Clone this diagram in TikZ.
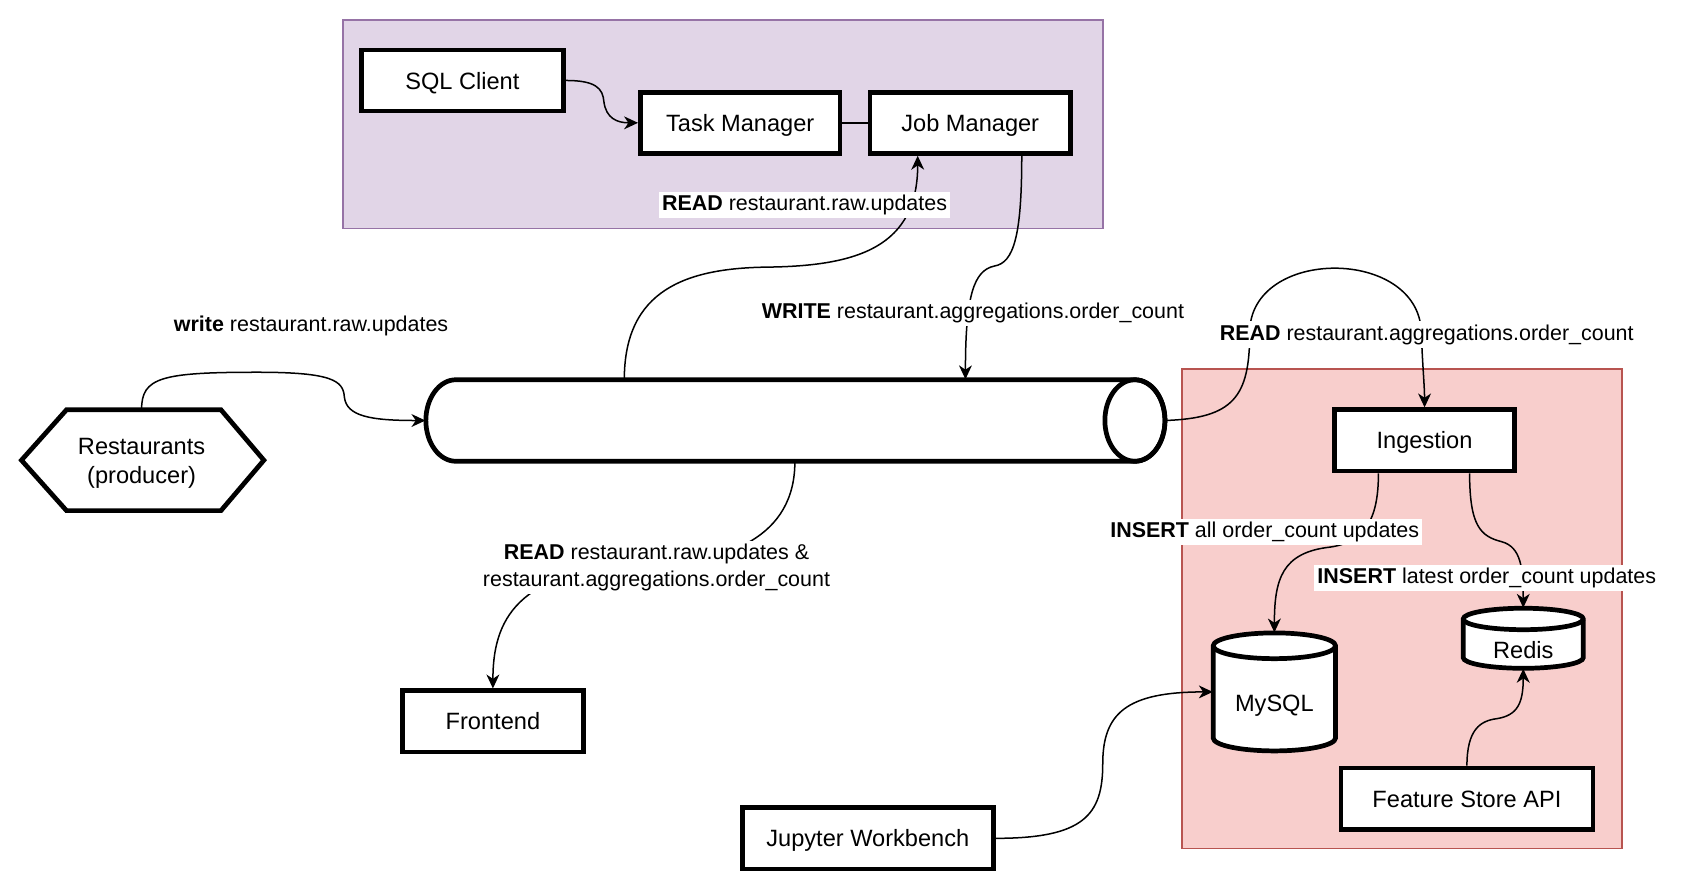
\documentclass[tikz,border=0pt]{standalone}
\usepackage{fontspec}
\setmainfont{Liberation Sans}
\usetikzlibrary{arrows.meta,calc}
\definecolor{purpfill}{HTML}{E1D5E7}
\definecolor{purpline}{HTML}{9673A6}
\definecolor{redfill}{HTML}{F8CECC}
\definecolor{redline}{HTML}{B85450}
\begin{document}
\begin{tikzpicture}[x=0.5pt,y=-0.5pt,
  box/.style={draw, line width=2.2pt, fill=white, minimum height=28.5pt, inner sep=0pt, text height=8pt, text depth=0pt, font=\fontsize{11}{13.5}\selectfont},
  lbl/.style={fill=white, inner sep=1.5pt, font=\fontsize{10}{12.5}\selectfont, align=center},
  conn/.style={line width=0.7pt, -{Stealth[length=6.5pt,width=6pt,inset=2pt]}},
  plainconn/.style={line width=0.7pt},
  solid3d/.style={line width=2.2pt, fill=white},
  grp/.style={line width=0.9pt},
  txt/.style={inner sep=0pt, align=center, font=\fontsize{11}{13.5}\selectfont}
]
\useasboundingbox (0,0) rectangle (1568,832);

% groups
\draw[grp, fill=purpfill, draw=purpline] (320,19) rectangle (1028,213);
\draw[grp, fill=redfill, draw=redline] (1102,344) rectangle (1512,791);

% boxes
\node[box, minimum width=94pt] (sql) at (431,75) {SQL Client};
\node[box, minimum width=93pt] (tm) at (690,114.5) {Task Manager};
\node[box, minimum width=93.5pt] (jm) at (904.5,114.5) {Job Manager};
\node[box, minimum width=84.5pt] (fe) at (459.5,672.5) {Frontend};
\node[box, minimum width=84pt] (ing) at (1328,410.5) {Ingestion};
\node[box, minimum width=117.5pt] (fs) at (1367.5,744.5) {Feature Store API};
\node[box, minimum width=117pt] (jw) at (809,781.5) {Jupyter Workbench};

% hexagon producer
\draw[solid3d] (20,429) -- (62,382) -- (206,382) -- (246,429) -- (206,476) -- (62,476) -- cycle;
\node[minimum width=113pt, minimum height=47pt, inner sep=0pt] (rest) at (132,429) {};
\node[txt] (resttxt) at (132,432) {Restaurants\\(producer)};

% pipe (horizontal cylinder)
\draw[solid3d] (425,354) -- (1058,354)
  arc[start angle=90, end angle=-90, x radius=14pt, y radius=19pt]
  -- (425,430)
  arc[start angle=270, end angle=90, x radius=14pt, y radius=19pt] -- cycle;
\draw[line width=2.2pt] (1058,392) ellipse [x radius=14pt, y radius=19pt];
\node[minimum width=344pt, minimum height=38pt, inner sep=0pt] (pipe) at (741,392) {};

% MySQL cylinder
\draw[solid3d] (1131,602) -- (1131,688)
  arc[start angle=180, end angle=360, x radius=28.5pt, y radius=6pt]
  -- (1245,602)
  arc[start angle=0, end angle=180, x radius=28.5pt, y radius=6pt] -- cycle;
\draw[line width=2.2pt] (1131,602) arc[start angle=180, end angle=360, x radius=28.5pt, y radius=6pt];
\node[minimum width=57pt, minimum height=55pt, inner sep=0pt] (mysql) at (1188,645) {};
\node[txt] (mysqltxt) at (1188,658) {MySQL};

% Redis cylinder
\draw[solid3d] (1364,577) -- (1364,613)
  arc[start angle=180, end angle=360, x radius=28pt, y radius=5pt]
  -- (1476,577)
  arc[start angle=0, end angle=180, x radius=28pt, y radius=5pt] -- cycle;
\draw[line width=2.2pt] (1364,577) arc[start angle=180, end angle=360, x radius=28pt, y radius=5pt];
\node[minimum width=56pt, minimum height=28pt, inner sep=0pt] (redis) at (1420,595) {};
\node[txt] (redistxt) at (1420,606) {Redis};

% connectors
\draw[conn] (sql.east) .. controls (555,75) and (562,82) .. (563,95)
  .. controls (565,110) and (575,114.5) .. (tm.west);
\draw[plainconn] (tm.east) -- (jm.west);

\draw[conn] (rest.north) .. controls (132,352) and (150,347) .. (240,347)
  .. controls (310,347) and (320,355) .. (321,370)
  .. controls (323,388) and (345,392) .. (pipe.west);

\draw[conn] ($(pipe.north)+(-159,0)$) .. controls (582,270) and (640,250) .. (715,249)
  .. controls (800,248) and (855.5,230) .. ($(jm.south)+(-49,0)$);

\draw[conn] ($(jm.south)+(48,0)$) .. controls (952.5,220) and (945,245) .. (927,248)
  .. controls (908,252) and (900,275) .. ($(pipe.north)+(159,0)$);

\draw[conn] (pipe.east) .. controls (1150,390) and (1165,370) .. (1165,310)
  .. controls (1165,230) and (1323,230) .. (1325,310)
  .. controls (1326,340) and (1328,360) .. (ing.north);

\draw[conn] (pipe.south) .. controls (741,500) and (680,525) .. (600,527)
  .. controls (480,530) and (459.5,580) .. (fe.north);

\draw[conn] ($(ing.south)+(-43,0)$) .. controls (1285,480) and (1275,505) .. (1240,510)
  .. controls (1195,515) and (1188,540) .. (mysql.north);

\draw[conn] ($(ing.south)+(42,0)$) .. controls (1370,490) and (1380,500) .. (1400,505)
  .. controls (1418,510) and (1420,530) .. (redis.north);

\draw[conn] (fs.north) .. controls (1367.5,680) and (1380,672) .. (1395,670)
  .. controls (1415,667) and (1420,655) .. (redis.south);

\draw[conn] (jw.east) .. controls (1010,781.5) and (1028,760) .. (1028,712)
  .. controls (1028,665) and (1050,645) .. (mysql.west);

% labels
\node[lbl, fill=none] (lwrite) at (290,304) {\textbf{write} restaurant.raw.updates};
\node[lbl] (lreadraw) at (750,191) {\textbf{READ} restaurant.raw.updates};
\node[lbl] (lwriteagg) at (907,292) {\textbf{WRITE} restaurant.aggregations.order\_count};
\node[lbl] (lreadagg) at (1330,312) {\textbf{READ} restaurant.aggregations.order\_count};
\node[lbl] (lreadfe) at (612,529) {\textbf{READ} restaurant.raw.updates \&\\restaurant.aggregations.order\_count};
\node[lbl] (linsall) at (1179,496) {\textbf{INSERT} all order\_count updates};
\node[lbl] (linslat) at (1386,539) {\textbf{INSERT} latest order\_count updates};
\end{tikzpicture}
\end{document}
